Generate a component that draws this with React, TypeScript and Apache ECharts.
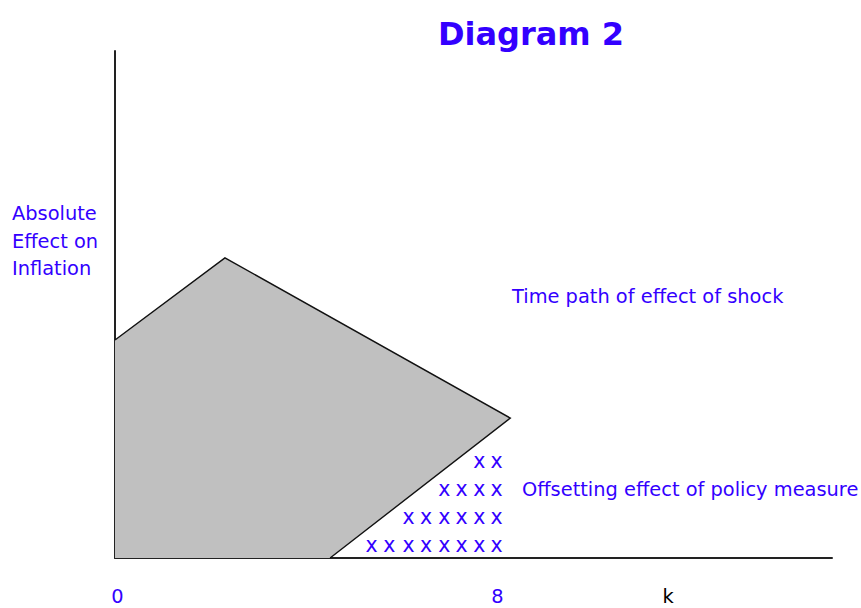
import React, { useEffect, useRef } from "react";
import * as echarts from "echarts";

// Shock time-path polygon vertices (data space: k along x, effect along y)
const shockX = [0, 2.3, 8.27, 4.5, 0];
const shockY = [4.3, 5.92, 2.76, 0, 0];

// Offsetting-effect "x" marks, row by row
const markRowY = [1.92, 1.37, 0.81, 0.26];
const markRowX = [
  [7.62, 7.98],
  [6.89, 7.25, 7.62, 7.98],
  [6.14, 6.51, 6.89, 7.25, 7.62, 7.98],
  [5.37, 5.74, 6.14, 6.51, 6.89, 7.25, 7.62, 7.98],
];

// x-axis tick labels
const tickValues = [0.05, 8, 11.57];
const tickLabels = ["0", "8", "k"];

const BLUE = "#3300ff";
const FONT = "DejaVu Sans";
const FS = 19.4;

export default function App() {
  const ref = useRef<HTMLDivElement>(null);
  useEffect(() => {
    if (!ref.current) return;
    const chart = echarts.init(ref.current, null, { renderer: "svg" });
    const polyData = shockX.map((x, i) => [x, shockY[i]]);
    const marks: number[][] = [];
    markRowX.forEach((row, r) => row.forEach((x) => marks.push([x, markRowY[r]])));

    chart.setOption({
      animation: false,
      backgroundColor: "#ffffff",
      grid: { left: 115, right: 29, top: 51, bottom: 50, containLabel: false },
      xAxis: {
        type: "value",
        min: 0,
        max: 15,
        axisLine: { show: true, lineStyle: { color: "#222", width: 2 } },
        axisTick: { show: false },
        splitLine: { show: false },
        axisLabel: {
          customValues: tickValues,
          margin: 29,
          fontFamily: FONT,
          fontSize: FS,
          color: BLUE,
          formatter: (v: number) => {
            const i = tickValues.indexOf(v);
            const t = i >= 0 ? tickLabels[i] : "";
            return t === "k" ? "{k|k}" : t;
          },
          rich: { k: { color: "#000", fontFamily: FONT, fontSize: FS } },
        },
      },
      yAxis: {
        type: "value",
        min: 0,
        max: 10,
        axisLine: { show: true, lineStyle: { color: "#222", width: 2 } },
        axisTick: { show: false },
        axisLabel: { show: false },
        splitLine: { show: false },
      },
      series: [
        {
          type: "custom",
          data: polyData,
          z: 1,
          renderItem: (params: any, api: any) => {
            if (params.dataIndex !== 0) return null;
            const pts = polyData.map((p) => api.coord(p));
            return {
              type: "group",
              children: [
                {
                  type: "polygon",
                  shape: { points: pts },
                  style: { fill: "#c0c0c0", stroke: "none" },
                },
                {
                  type: "polyline",
                  shape: { points: pts.slice(0, 4) },
                  style: { stroke: "#111", lineWidth: 1.4, fill: "none" },
                },
              ],
            };
          },
        },
        {
          type: "scatter",
          data: marks,
          symbolSize: 1,
          itemStyle: { color: "rgba(0,0,0,0)", opacity: 1 },
          z: 3,
          label: {
            show: true,
            position: "inside",
            formatter: "x",
            color: BLUE,
            fontFamily: FONT,
            fontSize: 20.5,
          },
        },
      ],
      graphic: [
        {
          type: "text",
          x: 531,
          y: 34,
          style: {
            text: "Diagram 2",
            fill: BLUE,
            font: `bold 32px "${FONT}"`,
            textAlign: "center",
            textVerticalAlign: "middle",
          },
        },
        {
          type: "text",
          x: 12,
          y: 200,
          style: {
            text: "Absolute\nEffect on\nInflation",
            fill: BLUE,
            font: `${FS}px "${FONT}"`,
            lineHeight: 27.5,
            textAlign: "left",
            textVerticalAlign: "top",
          },
        },
        {
          type: "text",
          x: 512,
          y: 296,
          style: {
            text: "Time path of effect of shock",
            fill: BLUE,
            font: `${FS}px "${FONT}"`,
            textAlign: "left",
            textVerticalAlign: "middle",
          },
        },
        {
          type: "text",
          x: 522,
          y: 489,
          style: {
            text: "Offsetting effect of policy measure",
            fill: BLUE,
            font: `${FS}px "${FONT}"`,
            textAlign: "left",
            textVerticalAlign: "middle",
          },
        },
      ],
    });
    return () => chart.dispose();
  }, []);
  return <div ref={ref} style={{ width: 861, height: 608, position: "absolute", left: 0, top: 0 }} />;
}
